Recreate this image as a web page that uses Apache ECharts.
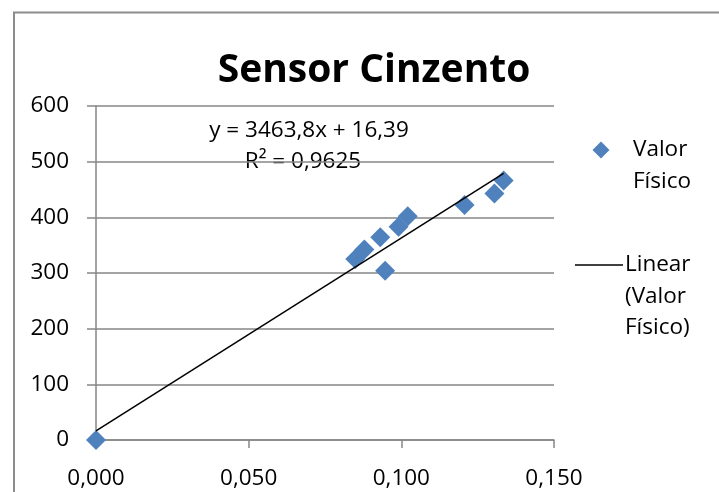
<!DOCTYPE html>
<html>
<head>
<meta charset="utf-8">
<script src="https://cdn.jsdelivr.net/npm/echarts@6/dist/echarts.min.js"></script>
<style>
  html, body { margin: 0; padding: 0; background: #ffffff; }
  #chart { width: 719px; height: 492px; }
</style>
</head>
<body>
<div id="chart"></div>
<script>
// Measured sensor readings (x) against physical value (y)
const sensorX = [0.000, 0.0849, 0.0879, 0.0931, 0.0947, 0.0991, 0.1021, 0.1207, 0.1305, 0.1335];
const valorFisico = [0, 325, 342, 364, 304, 383, 402, 422, 443, 466];
const xTicks = [0, 0.05, 0.10, 0.15];
const yTicks = [0, 100, 200, 300, 400, 500, 600];

// Least-squares trend as reported on the chart
const slope = 3463.8;
const intercept = 16.39;
const rSquared = 0.9625;

const seriesName = 'Valor Físico';
const trendName = 'Linear (Valor Físico)';
const chartTitle = 'Sensor Cinzento';

const FONT = 'Open Sans';
const FS = 22.5;
const LINE_H = 31.5;
const GRID_COLOR = '#868686';
const BLUE = '#4F81BD';

const fmt = (v, d) => v.toFixed(d).replace('.', ',');

const points = sensorX.map((x, i) => [x, valorFisico[i]]);
const xEnd = Math.max(...sensorX);
const trendData = [[0, intercept], [xEnd, slope * xEnd + intercept]];

const chart = echarts.init(document.getElementById('chart'), null, { renderer: 'canvas' });

// multi-line legend label whose first line is centred on yFirst
const legendText = (x, yFirst, text) => ({
  type: 'text',
  x: x, y: yFirst - LINE_H / 2,
  style: {
    text: text,
    fontFamily: FONT, fontSize: FS, fill: '#000000',
    lineHeight: LINE_H, verticalAlign: 'top', align: 'left'
  }
});

chart.setOption({
  backgroundColor: '#ffffff',
  animation: false,
  title: {
    text: chartTitle,
    left: 369,
    top: 43,
    textAlign: 'center',
    textStyle: { fontFamily: FONT, fontSize: 39, fontWeight: 'bold', color: '#000000', lineHeight: 46 }
  },
  grid: { left: 96, right: 165, top: 106, bottom: 52, containLabel: false },
  xAxis: {
    type: 'value',
    min: xTicks[0],
    max: xTicks[xTicks.length - 1],
    interval: xTicks[1] - xTicks[0],
    axisLine: { show: true, onZero: false, lineStyle: { color: GRID_COLOR, width: 1.5 } },
    axisTick: { show: true, inside: false, length: 8, lineStyle: { color: GRID_COLOR, width: 1.5 } },
    axisLabel: {
      formatter: v => fmt(v, 3),
      fontFamily: FONT, fontSize: FS, color: '#000000', margin: 27
    },
    splitLine: { show: false }
  },
  yAxis: {
    type: 'value',
    min: yTicks[0],
    max: yTicks[yTicks.length - 1],
    interval: yTicks[1] - yTicks[0],
    axisLine: { show: true, lineStyle: { color: GRID_COLOR, width: 1.5 } },
    axisTick: { show: true, inside: false, length: 9, lineStyle: { color: GRID_COLOR, width: 1.5 } },
    axisLabel: {
      formatter: v => String(v),
      fontFamily: FONT, fontSize: FS, color: '#000000', margin: 27
    },
    splitLine: { show: true, lineStyle: { color: GRID_COLOR, width: 1.5 } }
  },
  series: [
    {
      name: trendName,
      type: 'line',
      data: trendData,
      symbol: 'none',
      lineStyle: { color: '#000000', width: 1.5 },
      z: 3
    },
    {
      name: seriesName,
      type: 'scatter',
      data: points,
      symbol: 'diamond',
      symbolSize: 20,
      itemStyle: { color: BLUE, opacity: 1 },
      z: 2
    }
  ],
  graphic: [
    // chart frame
    {
      type: 'rect',
      shape: { x: 14, y: 12.5, width: 740, height: 520 },
      style: { fill: null, stroke: '#8c8c8c', lineWidth: 2 },
      silent: true, z: -1
    },
    // trend equation
    {
      type: 'text',
      x: 309, y: 131,
      style: {
        text: 'y = ' + fmt(slope, 1) + 'x + ' + fmt(intercept, 2),
        fontFamily: FONT, fontSize: FS, fill: '#000000',
        align: 'center', verticalAlign: 'middle'
      }
    },
    {
      type: 'text',
      x: 303, y: 162,
      style: {
        text: 'R² = ' + fmt(rSquared, 4),
        fontFamily: FONT, fontSize: FS, fill: '#000000',
        align: 'center', verticalAlign: 'middle'
      }
    },
    // legend: scatter entry
    {
      type: 'polygon',
      shape: { points: [[601, 141.5], [609.5, 150], [601, 158.5], [592.5, 150]] },
      style: { fill: BLUE }
    },
    legendText(633, 150, seriesName.replace(' ', '\n')),
    // legend: trendline entry
    {
      type: 'line',
      shape: { x1: 575, y1: 265, x2: 623, y2: 265 },
      style: { stroke: '#000000', lineWidth: 1.5 }
    },
    legendText(625, 265, 'Linear\n(Valor\nFísico)')
  ]
});
</script>
</body>
</html>
